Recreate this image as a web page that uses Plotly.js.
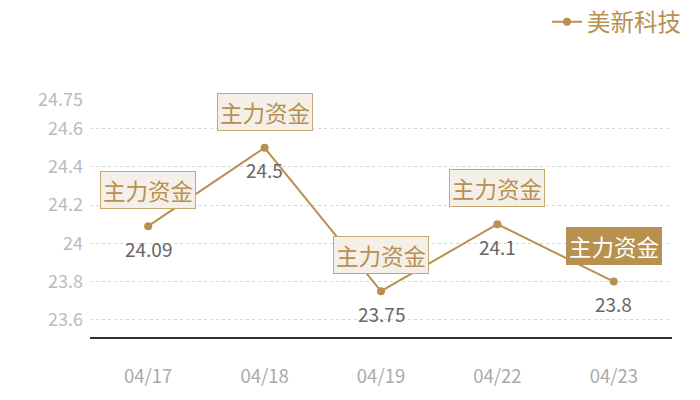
<!DOCTYPE html>
<html><head><meta charset="utf-8">
<script src="https://cdn.plot.ly/plotly-3.0.1.min.js"></script>
<style>html,body{margin:0;padding:0;background:#fff}#chart{width:700px;height:400px}</style>
</head><body><div id="chart"></div>
<script>
const dates = ["04/17", "04/18", "04/19", "04/22", "04/23"];
const prices = [24.09, 24.5, 23.75, 24.1, 23.8];
const seriesName = "美新科技";
const flagLabel = "主力资金";
const yTicks = [23.6, 23.8, 24, 24.2, 24.4, 24.6, 24.75];
const yTickText = ["23.6", "23.8", "24", "24.2", "24.4", "24.6", "24.75"];
const highlighted = [false, false, false, false, true];

const gold = "#b8904f";
const font = "'Noto Sans CJK SC', 'Noto Sans', sans-serif";

const trace = {
  x: dates, y: prices, type: "scatter", mode: "lines+markers",
  name: seriesName,
  line: {color: gold, width: 2},
  marker: {color: gold, size: 8},
  cliponaxis: false
};

const flags = dates.map((d, i) => ({
  x: d, y: prices[i], xref: "x", yref: "y",
  text: flagLabel, showarrow: false, yshift: 36,
  font: {size: 22.5, color: highlighted[i] ? "#fff" : gold, family: font},
  bgcolor: highlighted[i] ? gold : "#f4efe8",
  bordercolor: highlighted[i] ? gold : "#c9a770",
  borderwidth: 1, borderpad: 2
}));
const valueLabels = dates.map((d, i) => ({
  x: d, y: prices[i], xref: "x", yref: "y",
  text: String(prices[i]), showarrow: false, yshift: -22,
  font: {size: 19, color: "#666", family: font}
}));

const layout = {
  width: 700, height: 400,
  margin: {l: 90, r: 28, t: 100, b: 63, autoexpand: false},
  paper_bgcolor: "#fff", plot_bgcolor: "#fff",
  font: {family: font},
  showlegend: true,
  legend: {xref: "container", x: 0.98, xanchor: "right", y: 1.01, yref: "container", yanchor: "top",
    font: {size: 23.5, color: gold, family: font}, bgcolor: "rgba(0,0,0,0)",
    itemwidth: 30},
  xaxis: {type: "category", range: [-0.5, 4.5], showgrid: false,
    showline: true, linecolor: "#333", linewidth: 1.5,
    ticks: "outside", ticklen: 22, tickcolor: "rgba(0,0,0,0)",
    tickfont: {size: 18.5, color: "#aaa", family: font}, zeroline: false},
  yaxis: {range: [23.51, 24.75], tickvals: yTicks, ticktext: yTickText,
    showgrid: true, gridcolor: "#d6d6d6", griddash: "dot", gridwidth: 1,
    showline: false, zeroline: false, ticks: "", ticklabelstandoff: 6,
    tickfont: {size: 18, color: "#bbb", family: font}},
  annotations: valueLabels.concat(flags)
};

Plotly.newPlot("chart", [trace], layout, {displayModeBar: false, staticPlot: true});
</script></body></html>
